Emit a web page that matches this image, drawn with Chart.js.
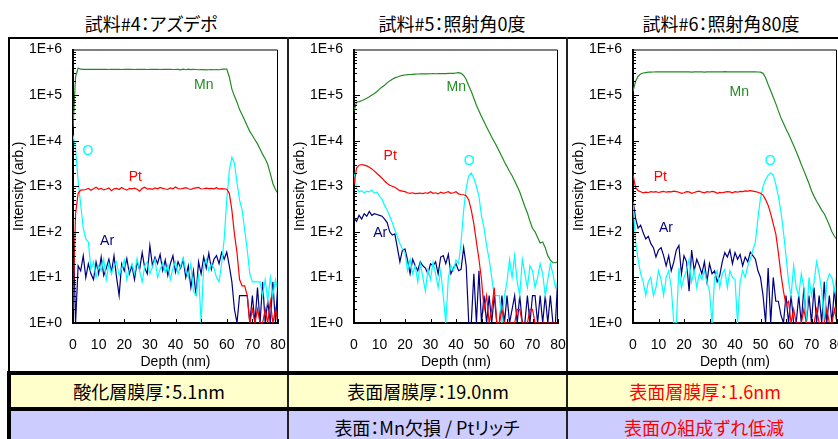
<!DOCTYPE html>
<html>
<head>
<meta charset="utf-8">
<script src="https://cdn.jsdelivr.net/npm/chart.js@4.4.3/dist/chart.umd.min.js"></script>
<style>
  html, body { margin: 0; padding: 0; width: 838px; height: 439px; overflow: hidden; background: #fff; }
  .ln { position: absolute; background: #000; }
  .bg { position: absolute; }
  .txt { position: absolute; white-space: nowrap; transform: translateX(-50%);
         font-family: "Noto Sans CJK JP", sans-serif; font-size: 18px; line-height: 20px; color: #000;
         font-feature-settings: "palt"; }
  .red { color: #ff0000; }
  canvas { position: absolute; top: 39px; }
</style>
</head>
<body>
<div class="txt" style="left:151px; top:13px">試料#4：アズデポ</div>
<div class="txt" style="left:452px; top:13px">試料#5：照射角0度</div>
<div class="txt" style="left:721px; top:13px">試料#6：照射角80度</div>

<div class="bg" style="left:10px; top:375px; width:830px; height:32px; background:#ffffcc"></div>
<div class="bg" style="left:10px; top:411px; width:830px; height:28px; background:#ccccff"></div>

<div class="ln" style="left:8px; top:37px; width:840px; height:2px"></div>
<div class="ln" style="left:8px; top:37px; width:2px; height:402px"></div>
<div class="ln" style="left:287px; top:37px; width:2px; height:402px; background:#222"></div>
<div class="ln" style="left:566px; top:37px; width:2px; height:402px; background:#222"></div>
<div class="ln" style="left:7px; top:371px; width:840px; height:4px"></div>
<div class="ln" style="left:7px; top:407px; width:840px; height:4px"></div>
<div class="ln" style="left:7px; top:371px; width:4px; height:68px"></div>

<div class="txt" style="left:149px; top:381px">酸化層膜厚：5.1nm</div>
<div class="txt" style="left:428px; top:381px">表面層膜厚：19.0nm</div>
<div class="txt red" style="left:705px; top:381px">表面層膜厚：1.6nm</div>
<div class="txt" style="left:427px; top:417px">表面：Mn欠損 / Ptリッチ</div>
<div class="txt red" style="left:704px; top:417px">表面の組成ずれ低減</div>

<canvas id="c4" width="277" height="332" style="left:10px"></canvas>
<canvas id="c5" width="277" height="332" style="left:289px"></canvas>
<canvas id="c6" width="279" height="332" style="left:568px"></canvas>

<script>
// depth (nm)
const depth = [0, 1, 2, 3, 4, 5, 6, 7, 8, 9, 10, 11, 12, 13, 14, 15, 16, 17, 18, 19,
  20, 21, 22, 23, 24, 25, 26, 27, 28, 29, 30, 31, 32, 33, 34, 35, 36, 37, 38, 39,
  40, 41, 42, 43, 44, 45, 46, 47, 48, 49, 50, 51, 52, 53, 54, 55, 56, 57, 58, 59,
  60, 61, 62, 63, 64, 65, 66, 67, 68, 69, 70, 71, 72, 73, 74, 75, 76, 77, 78, 79, 80];

const xTicks = [0, 10, 20, 30, 40, 50, 60, 70, 80];
const yTicks = [1, 10, 100, 1000, 10000, 100000, 1000000];
const yTickLabels = ['1E+0', '1E+1', '1E+2', '1E+3', '1E+4', '1E+5', '1E+6'];
const elements = ['Mn', 'Pt', 'O', 'Ar'];

// 試料#4
const mn4 = [19000, 250000, 390000, 370000, 368000, 366000, 365000, 366000, 365000, 366000,
  365000, 365000, 366000, 365000, 364000, 365000, 366000, 365000, 365000, 364000,
  365000, 365000, 366000, 365000, 364000, 365000, 365000, 366000, 365000, 364000,
  365000, 365000, 366000, 365000, 364000, 365000, 365000, 366000, 365000, 364000,
  365000, 368000, 358000, 370000, 360000, 372000, 362000, 368000, 364000, 360000,
  363000, 362000, 358000, 360000, 362000, 360000, 361000, 360000, 365000, 370000,
  372000, 250000, 135000, 95000, 70000, 48000, 37000, 28000, 21000, 16000,
  13000, 10500, 8500, 6600, 5000, 4000, 3000, 1900, 1150, 850, 700];
const pt4 = [2, 250, 700, 820, 830, 850, 900, 820, 880, 950,
  860, 900, 830, 870, 920, 800, 880, 900, 850, 940,
  870, 820, 900, 880, 910, 860, 780, 900, 950, 870,
  890, 860, 920, 880, 940, 900, 870, 850, 920, 880,
  960, 890, 870, 900, 930, 880, 850, 900, 920, 940,
  870, 880, 910, 890, 900, 880, 930, 870, 890, 880,
  860, 700, 300, 90, 35, 9, 6.5, 6.5, 4, 0,
  2, 0, 2, 0, 0, 2, 0, 3, 0, 2, 0];
const o4 = [13000, 6500, 1300, 400, 120, 70, 60, 15, 22, 10,
  18, 14, 25, 9, 20, 12, 18, 22, 11, 16,
  24, 9, 15, 20, 12, 26, 14, 8, 18, 22,
  12, 17, 25, 10, 15, 21, 13, 19, 9, 16,
  22, 12, 18, 27, 14, 10, 20, 5, 4, 12,
  0, 18, 25, 14, 20, 16, 10, 8, 20, 70,
  500, 2200, 4300, 3200, 1200, 500, 300, 110, 40, 12,
  8, 8, 8, 8, 4, 9, 3, 10, 4, 9, 5];
const ar4 = [200, 0, 18, 14, 30, 10, 20, 12, 9, 22,
  12, 28, 11, 16, 25, 13, 30, 10, 4, 20,
  14, 26, 12, 18, 9, 22, 15, 35, 16, 12,
  50, 18, 28, 20, 32, 14, 24, 11, 20, 30,
  13, 22, 16, 25, 10, 18, 6, 14, 4, 22,
  12, 28, 16, 34, 15, 25, 30, 20, 35, 25,
  36, 18, 8, 2, 0, 4, 4, 4, 4, 0,
  4, 0, 6, 0, 8, 0, 3, 0, 8, 0, 8];

// 試料#5
const mn5 = [45000, 70000, 72000, 75000, 80000, 85000, 92000, 100000, 108000, 120000,
  135000, 150000, 165000, 185000, 205000, 222000, 238000, 250000, 262000, 270000,
  276000, 280000, 283000, 286000, 288000, 290000, 291000, 292000, 293000, 292000,
  294000, 295000, 294000, 296000, 295000, 297000, 296000, 298000, 299000, 300000,
  305000, 310000, 300000, 270000, 220000, 160000, 120000, 85000, 60000, 45000,
  34000, 26000, 20000, 15500, 12000, 9500, 7500, 5800, 4500, 3400,
  2700, 2100, 1700, 1300, 1000, 750, 520, 360, 260, 170,
  120, 100, 75, 57, 60, 45, 30, 24, 21, 21, 22];
const pt5 = [1100, 2500, 2900, 3000, 2900, 2800, 2600, 2400, 2150, 1900,
  1700, 1500, 1300, 1150, 1050, 1000, 950, 870, 800, 780,
  760, 720, 700, 720, 690, 700, 710, 690, 720, 700,
  760, 700, 720, 680, 740, 700, 730, 760, 700, 720,
  760, 680, 660, 650, 620, 500, 300, 150, 60, 25,
  9, 2, 4, 0, 2, 6, 0, 0, 2, 0,
  0, 0, 0, 0, 2, 2, 0, 0, 0, 2,
  2, 0, 0, 0, 0, 0, 0, 0, 0, 0, 0];
const o5 = [2000, 900, 750, 800, 720, 780, 750, 820, 700, 750,
  600, 520, 380, 300, 220, 160, 110, 80, 55, 42,
  35, 14, 25, 12, 18, 8, 20, 10, 5, 15,
  9, 22, 12, 6, 14, 4, 0, 10, 18, 14,
  24, 20, 60, 300, 900, 1700, 1950, 1500, 1000, 600,
  220, 120, 50, 25, 10, 4, 4, 4, 0, 4,
  8, 25, 10, 30, 8, 4, 25, 12, 6, 18,
  14, 6, 10, 20, 12, 4, 9, 20, 12, 6, 8];
const ar5 = [200, 170, 230, 190, 250, 220, 280, 230, 250, 240,
  230, 220, 190, 160, 100, 85, 90, 45, 22, 40,
  42, 24, 12, 25, 18, 14, 22, 18, 16, 12,
  20, 18, 22, 12, 28, 30, 20, 32, 12, 16,
  20, 14, 15, 45, 18, 0, 0, 12, 0, 14,
  0, 4, 0, 4, 0, 4, 0, 0, 4, 0,
  4, 0, 2, 4, 0, 4, 0, 0, 4, 0,
  4, 4, 0, 4, 0, 4, 0, 4, 0, 0, 12];

// 試料#6
const mn6 = [120000, 200000, 260000, 290000, 305000, 312000, 318000, 320000, 321000, 322000,
  322000, 323000, 322000, 323000, 322000, 324000, 323000, 322000, 323000, 322000,
  324000, 323000, 322000, 318000, 324000, 323000, 322000, 323000, 320000, 324000,
  323000, 322000, 323000, 324000, 322000, 323000, 326000, 322000, 323000, 324000,
  322000, 323000, 324000, 322000, 323000, 322000, 324000, 323000, 322000, 321000,
  318000, 300000, 240000, 170000, 125000, 90000, 65000, 45000, 32000, 24000,
  18000, 14000, 10500, 7800, 5800, 4200, 3000, 2200, 1600, 1150,
  800, 600, 470, 380, 300, 250, 190, 140, 100, 80, 67];
const pt6 = [1800, 950, 800, 760, 720, 740, 730, 760, 740, 760,
  730, 750, 770, 740, 760, 750, 780, 760, 740, 700,
  720, 760, 750, 700, 730, 760, 780, 740, 720, 760,
  740, 770, 750, 700, 730, 720, 740, 760, 750, 720,
  760, 740, 770, 760, 790, 780, 800, 780, 760, 740,
  700, 640, 510, 380, 250, 150, 90, 35, 12, 5,
  2.5, 3, 0, 2, 0, 0, 0, 2, 0, 0,
  0, 0, 2, 0, 0, 0, 2, 0, 0, 2, 0];
const o6 = [450, 60, 25, 12, 8, 4, 8, 10, 4, 6,
  14, 9, 4, 10, 14, 6, 0, 0, 16, 6,
  10, 14, 25, 8, 14, 6, 12, 9, 14, 8,
  5, 0, 10, 14, 6, 12, 15, 6, 14, 10,
  9, 0, 8, 14, 10, 18, 25, 40, 60, 200,
  550, 1000, 1400, 1750, 1950, 1750, 1100, 600, 280, 100,
  30, 8, 4, 18, 6, 4, 12, 6, 0, 10,
  4, 8, 22, 12, 5, 0, 8, 12, 10, 5, 12];
const ar6 = [500, 200, 120, 140, 95, 70, 80, 55, 45, 28,
  40, 45, 30, 18, 30, 14, 22, 40, 50, 12,
  30, 22, 5, 40, 14, 25, 18, 12, 22, 8,
  20, 12, 14, 8, 11, 22, 35, 28, 40, 20,
  35, 25, 32, 18, 28, 22, 36, 30, 25, 14,
  10, 4, 0, 16, 0, 10, 3, 3, 1.5, 0,
  4, 0, 4, 0, 0, 4, 0, 6, 0, 4,
  0, 6, 0, 4, 0, 8, 0, 4, 0, 6, 0];

const colors = ['#228b22', '#ff0000', '#00ffff', '#000080'];
const axisFont = '"Liberation Sans", Arial, sans-serif';
const yMin = 1;   // zero counts sit on the 1E+0 axis, as in the original plot

// frame, inward ticks and element names
const framePlugin = {
  id: 'framePlugin',
  afterDatasetsDraw(chart, args, opts) {
    const ctx = chart.ctx, a = chart.chartArea;
    const x = chart.scales.x, y = chart.scales.y;
    ctx.save();
    ctx.strokeStyle = '#000';
    ctx.lineWidth = 1;
    ctx.beginPath();
    ctx.moveTo(a.left, a.top + 0.5);
    ctx.lineTo(a.right - 0.5, a.top + 0.5);
    ctx.lineTo(a.right - 0.5, a.bottom);
    for (let e = 0; e < 6; e++) {
      for (let m = 1; m < 10; m++) {
        const py = Math.round(y.getPixelForValue(m * Math.pow(10, e))) + 0.5;
        ctx.moveTo(a.left, py);
        ctx.lineTo(a.left + (m === 1 ? 6 : 3), py);
      }
    }
    xTicks.forEach(v => {
      const px = Math.round(x.getPixelForValue(v)) + 0.5;
      ctx.moveTo(px, a.bottom);
      ctx.lineTo(px, a.bottom - 4);
    });
    ctx.stroke();
    ctx.font = '14px ' + axisFont;
    ctx.textAlign = 'center';
    ctx.textBaseline = 'middle';
    opts.names.forEach((p, i) => {
      ctx.fillStyle = colors[i];
      ctx.fillText(elements[i], x.getPixelForValue(p[0]), y.getPixelForValue(p[1]));
    });
    ctx.restore();
  }
};

// the scales must not push the plot area in; the layout padding sets it
function noPad(s) {
  s.paddingTop = 0; s.paddingBottom = 0; s.paddingLeft = 0; s.paddingRight = 0;
}

function makeChart(id, series, yWidth, padRight, titlePad, names) {
  new Chart(document.getElementById(id), {
    type: 'line',
    data: {
      datasets: series.map((s, i) => ({
        label: elements[i],
        data: depth.map((d, j) => ({ x: d, y: Math.max(s[j], yMin) })),
        borderColor: colors[i],
        borderWidth: 1.2,
        pointRadius: 0,
        tension: 0
      }))
    },
    options: {
      responsive: false,
      animation: false,
      layout: { padding: { top: 10.5, right: padRight, left: 0, bottom: 0 } },
      plugins: {
        legend: { display: false },
        tooltip: { enabled: false },
        framePlugin: { names: names }
      },
      scales: {
        x: {
          type: 'linear', min: 0, max: 80,
          afterBuildTicks: s => { s.ticks = xTicks.map(v => ({ value: v })); },
          ticks: { padding: 14, color: '#000', maxRotation: 0, autoSkip: false,
                   font: { family: axisFont, size: 14 } },
          grid: { display: false, drawTicks: false },
          border: { color: '#000', width: 2 },
          title: { display: true, text: 'Depth (nm)', color: '#000',
                   font: { family: axisFont, size: 14 }, padding: { top: 0, bottom: 0 } },
          afterFit: s => { s.height = 48; noPad(s); }
        },
        y: {
          type: 'logarithmic', min: yMin, max: 1000000,
          afterBuildTicks: s => { s.ticks = yTicks.map(v => ({ value: v })); },
          ticks: { padding: 11, color: '#000', autoSkip: false,
                   callback: (v, i) => yTickLabels[i],
                   font: { family: axisFont, size: 14 } },
          grid: { display: false, drawTicks: false },
          border: { color: '#000', width: 2 },
          title: { display: true, text: 'Intensity (arb.)', color: '#000',
                   font: { family: axisFont, size: 14 }, padding: { top: titlePad, bottom: 0 } },
          afterFit: s => { s.width = yWidth; noPad(s); }
        }
      }
    },
    plugins: [framePlugin]
  });
}

makeChart('c4', [mn4, pt4, o4, ar4], 63, 9, 1,
  [[51, 162000], [24.3, 1580], [5.85, 6000], [13.3, 62]]);
makeChart('c5', [mn5, pt5, o5, ar5], 65, 8, 2.5,
  [[40.1, 151000], [14.2, 4570], [45.2, 3550], [10.3, 93]]);
makeChart('c6', [mn6, pt6, o6, ar6], 65, 10, 2.5,
  [[41.7, 117000], [10.7, 1580], [53.8, 3550], [12.9, 120]]);
</script>
</body>
</html>
